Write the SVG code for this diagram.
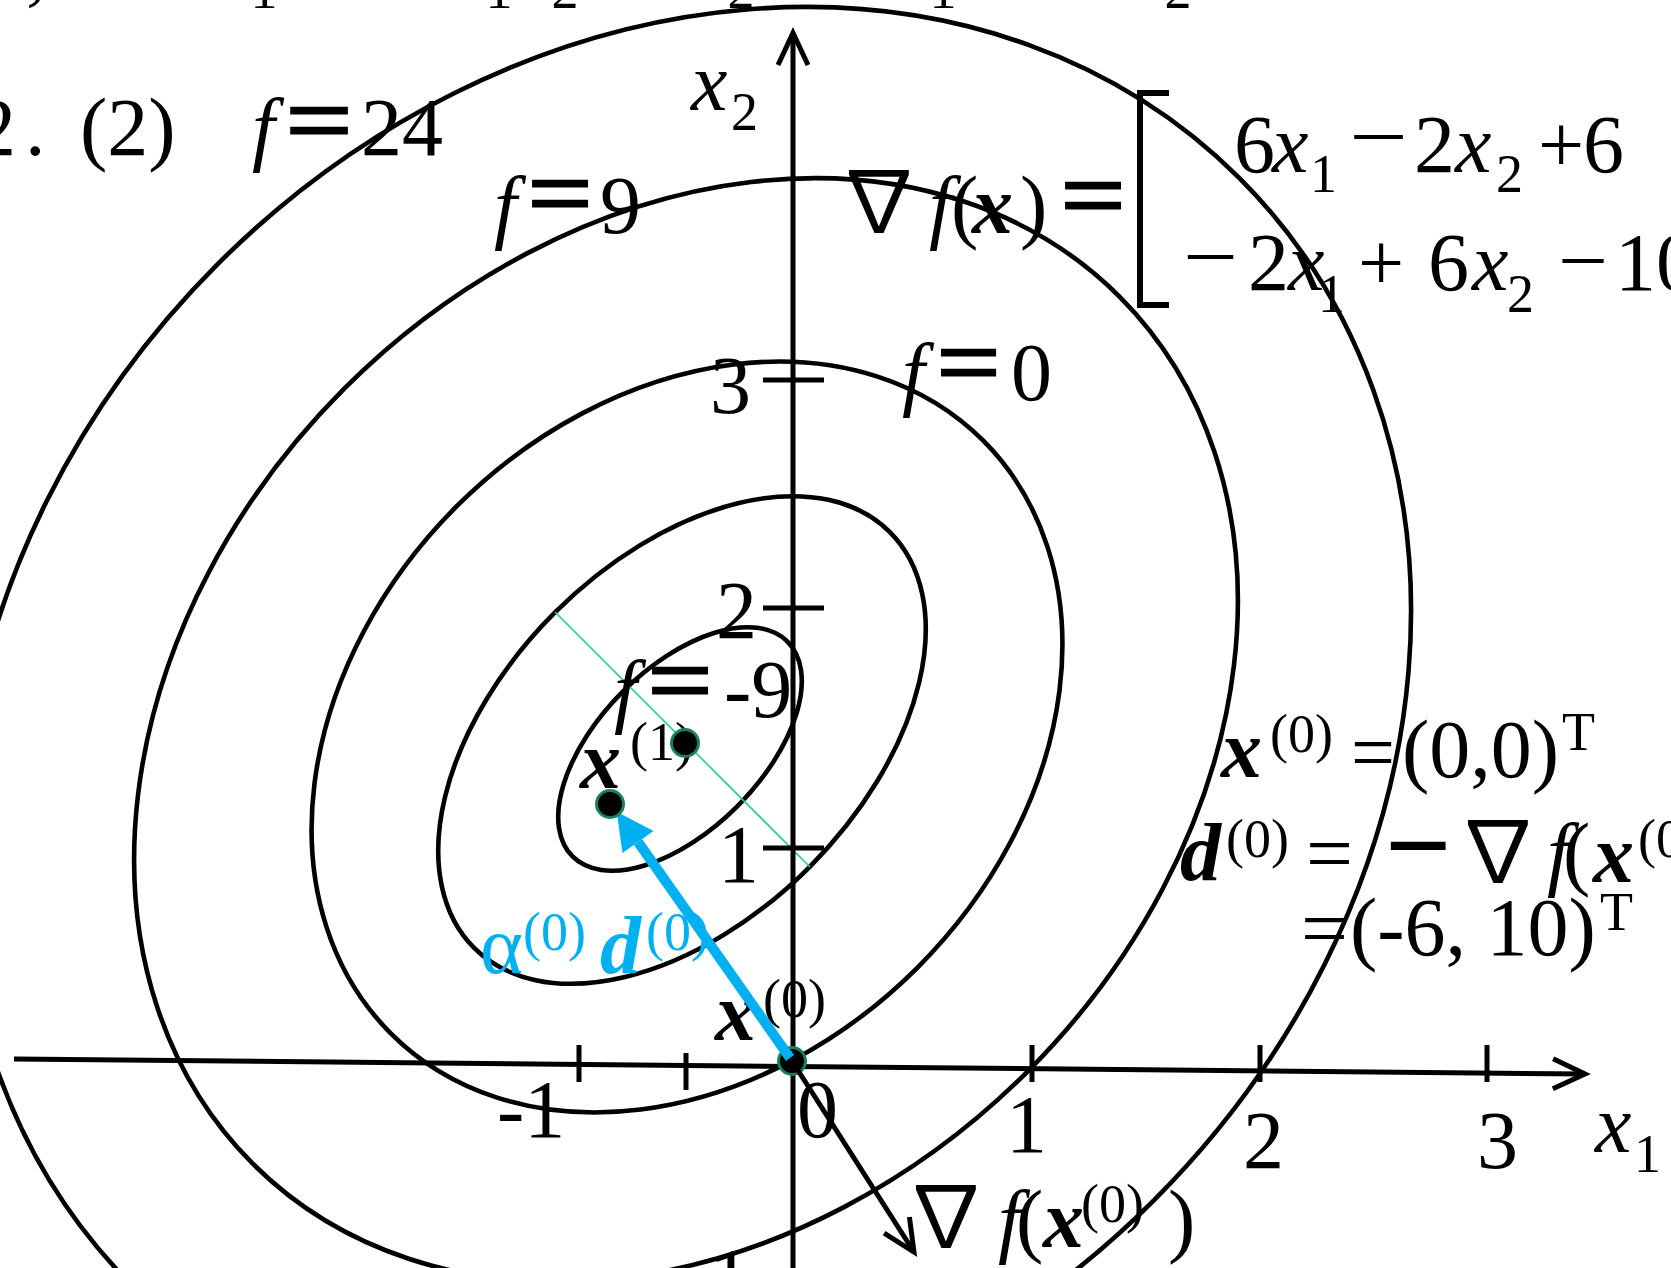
<svg xmlns="http://www.w3.org/2000/svg" width="1671" height="1268" viewBox="0 0 1671 1268">
<defs>
<style>
text{font-family:"Liberation Serif","DejaVu Serif",serif;font-size:82px;fill:#000}
.i{font-style:italic}
.b{font-style:italic;font-weight:bold}
.s{font-size:54px}
.eq{stroke:#000;stroke-width:2.5}
.eqb{stroke:#000;stroke-width:2.8;font-size:100px}
.nab{font-family:"Noto Sans CJK JP","DejaVu Serif",sans-serif;font-size:86px}
.blue{fill:#00b0f0}
.c{fill:none;stroke:#000;stroke-width:4.6}
.ax{fill:none;stroke:#000;stroke-width:5}
.tk{stroke:#000;stroke-width:5}
.pt{fill:#000;stroke:#18805f;stroke-width:3}
</style>
<marker id="open" markerUnits="userSpaceOnUse" markerWidth="44" markerHeight="40" viewBox="-40 -20 44 40" refX="0" refY="0" orient="auto" style="overflow:visible"><path d="M-32,-15 L0,0 L-32,15" fill="none" stroke="#000" stroke-width="5"/></marker>
<marker id="bhead" markerUnits="userSpaceOnUse" markerWidth="40" markerHeight="40" viewBox="0 -20 40 40" refX="0" refY="0" orient="auto" style="overflow:visible"><path d="M37,0 L0,-19 L0,19 Z" fill="#00b0f0"/></marker>
</defs>
<rect width="1671" height="1268" fill="#fff"/>
<g id="contours">
<ellipse id="c-24" class="c" cx="686" cy="732" rx="783" ry="662" transform="rotate(-45 686 732)"/>
<ellipse id="c-9" class="c" cx="686" cy="730" rx="613" ry="483" transform="rotate(-45 686 730)"/>
<ellipse id="c-0" class="c" cx="687" cy="737" rx="419" ry="326" transform="rotate(-45 687 737)"/>
<ellipse id="c-b" class="c" cx="682" cy="740" rx="294" ry="180" transform="rotate(-45 682 740)"/>
<ellipse id="c-m9" class="c" cx="680" cy="749" rx="152" ry="81" transform="rotate(-45 680 749)"/>
</g>
<g id="connectors">
<line id="green-line" x1="555" y1="612" x2="810" y2="867" stroke="#22cc99" stroke-width="1.6"/>
<line id="x1-axis" class="ax" x1="14" y1="1059" x2="1585" y2="1074" marker-end="url(#open)"/>
<line id="x2-axis" class="ax" x1="793" y1="1268" x2="793" y2="33" marker-end="url(#open)"/>
<g id="ticks">
<line class="tk" x1="579" y1="1045" x2="579" y2="1082"/>
<line class="tk" x1="686" y1="1053" x2="686" y2="1090"/>
<line class="tk" x1="1032" y1="1045" x2="1032" y2="1082"/>
<line class="tk" x1="1260" y1="1045" x2="1260" y2="1082"/>
<line class="tk" x1="1487" y1="1045" x2="1487" y2="1082"/>
<line class="tk" x1="763" y1="380" x2="824" y2="380"/>
<line class="tk" x1="763" y1="608" x2="824" y2="608"/>
<line class="tk" x1="763" y1="848" x2="824" y2="848"/>
</g>
</g>
<g id="top-fragments">
<text x="26" y="-4">,</text>
<text class="s" x="264" y="8" text-anchor="middle">1</text>
<text class="s" x="499" y="8" text-anchor="middle">1</text>
<text class="s" x="565" y="8" text-anchor="middle">2</text>
<text class="s" x="741" y="8" text-anchor="middle">2</text>
<text class="s" x="943" y="8" text-anchor="middle">1</text>
<text class="s" x="1178" y="8" text-anchor="middle">2</text>
</g>
<g id="title">
<text x="-25" y="155">2</text><text x="25" y="155">.</text>
<text x="80" y="155">(2)</text>
<text class="i" x="252" y="155">f</text>
<text class="eqb" x="286" y="154" textLength="66" lengthAdjust="spacingAndGlyphs">=</text>
<text x="361" y="155">24</text>
</g>
<g id="label-f9">
<text class="i" x="494" y="233">f</text>
<text class="eqb" x="528" y="227" textLength="64" lengthAdjust="spacingAndGlyphs">=</text>
<text x="600" y="233">9</text>
</g>
<g id="label-x2">
<text class="i" x="691" y="110">x</text><text class="s" x="731" y="130">2</text>
</g>
<g id="gradient-formula">
<text class="nab" x="836" y="232">∇</text>
<text class="i" x="929" y="233">f</text>
<text x="951" y="233">(</text>
<text class="b" x="972" y="233">x</text>
<text x="1020" y="233">)</text>
<text class="eqb" x="1061" y="229" textLength="64" lengthAdjust="spacingAndGlyphs">=</text>
<path d="M1169,93 H1140 V305 H1169" fill="none" stroke="#000" stroke-width="6"/>
<text x="1234" y="172">6</text>
<text class="i" x="1272" y="172">x</text>
<text class="s" x="1310" y="192">1</text>
<text x="1349" y="164" textLength="59" lengthAdjust="spacingAndGlyphs">−</text>
<text x="1414" y="172">2</text>
<text class="i" x="1455" y="172">x</text>
<text class="s" x="1496" y="192">2</text>
<text x="1538" y="172">+</text>
<text x="1583" y="172">6</text>
<text x="1183" y="284" textLength="55" lengthAdjust="spacingAndGlyphs">−</text>
<text x="1248" y="290">2</text>
<text class="i" x="1288" y="290">x</text>
<text class="s" x="1318" y="312">1</text>
<text x="1358" y="290">+</text>
<text x="1428" y="290">6</text>
<text class="i" x="1472" y="290">x</text>
<text class="s" x="1507" y="312">2</text>
<text x="1558" y="288" textLength="50" lengthAdjust="spacingAndGlyphs">−</text>
<text x="1615" y="290">10</text>
</g>
<g id="label-f0">
<text x="710" y="413">3</text>
<text class="i" x="902" y="400">f</text>
<text class="eqb" x="937" y="396" textLength="63" lengthAdjust="spacingAndGlyphs">=</text>
<text x="1011" y="400">0</text>
</g>
<g id="y-tick-labels">
<text x="716" y="638">2</text>
<text x="718" y="882">1</text>
<text x="682" y="1305">-1</text>
</g>
<g id="label-fm9">
<text class="i" x="614" y="717">f</text>
<text class="eqb" x="648" y="714" textLength="64" lengthAdjust="spacingAndGlyphs">=</text>
<text x="724" y="717">-9</text>
</g>
<g id="label-x1pt">
<text class="b" x="580" y="788">x</text><text class="s" x="630" y="760">(1)</text>
</g>
<g id="label-step">
<text class="blue" x="480" y="973">α</text>
<text class="blue s" x="523" y="950">(0)</text>
<text class="blue b" x="600" y="973">d</text>
<text class="blue s" x="646" y="950">(0)</text>
</g>
<g id="label-x0pt">
<text class="b" x="715" y="1040">x</text><text class="s" x="763" y="1017">(0)</text>
</g>
<g id="x-tick-labels">
<text x="497" y="1137">-1</text>
<text x="797" y="1137">0</text>
<text x="1006" y="1152">1</text>
<text x="1243" y="1168">2</text>
<text x="1477" y="1168">3</text>
<text class="i" x="1595" y="1152">x</text><text class="s" x="1634" y="1172">1</text>
</g>
<g id="label-grad">
<text class="nab" x="903" y="1247">∇</text>
<text class="i" x="998" y="1247">f</text>
<text x="1016" y="1247">(</text>
<text class="b" x="1043" y="1247">x</text>
<text class="s" x="1081" y="1222">(0)</text>
<text x="1168" y="1247">)</text>
</g>
<g id="right-formulas">
<text class="b" x="1221" y="777">x</text>
<text class="s" x="1270" y="752">(0)</text>
<text x="1351" y="780" textLength="44" lengthAdjust="spacingAndGlyphs">=</text>
<text x="1402" y="777">(0,0)</text>
<text class="s" x="1562" y="750">T</text>
<text class="b" x="1180" y="880">d</text>
<text class="s" x="1226" y="857">(0)</text>
<text x="1306" y="881" textLength="47" lengthAdjust="spacingAndGlyphs">=</text>
<text class="eq" x="1387" y="873" font-weight="bold" textLength="63" lengthAdjust="spacingAndGlyphs">−</text>
<text class="nab" x="1455" y="882">∇</text>
<text class="i" x="1547" y="880">f</text>
<text x="1563" y="880">(</text>
<text class="b" x="1593" y="882">x</text>
<text class="s" x="1638" y="857">(0</text>
<text x="1301" y="956" textLength="47" lengthAdjust="spacingAndGlyphs">=</text>
<text x="1350" y="955">(-6, 10)</text>
<text class="s" x="1600" y="930">T</text>
</g>
<g id="point-x0"><circle class="pt" cx="792" cy="1061" r="13.5"/></g>
<g id="arrows">
<line id="step-arrow" x1="790" y1="1058" x2="638" y2="842" stroke="#00b0f0" stroke-width="10" marker-end="url(#bhead)"/>
<line id="grad-arrow" x1="792" y1="1061" x2="914" y2="1252" stroke="#000" stroke-width="5" marker-end="url(#open)"/>
</g>
<g id="point-x1a"><circle class="pt" cx="685" cy="743" r="13.5"/></g>
<g id="point-x1b"><circle class="pt" cx="610" cy="804" r="13.5"/></g>
</svg>
